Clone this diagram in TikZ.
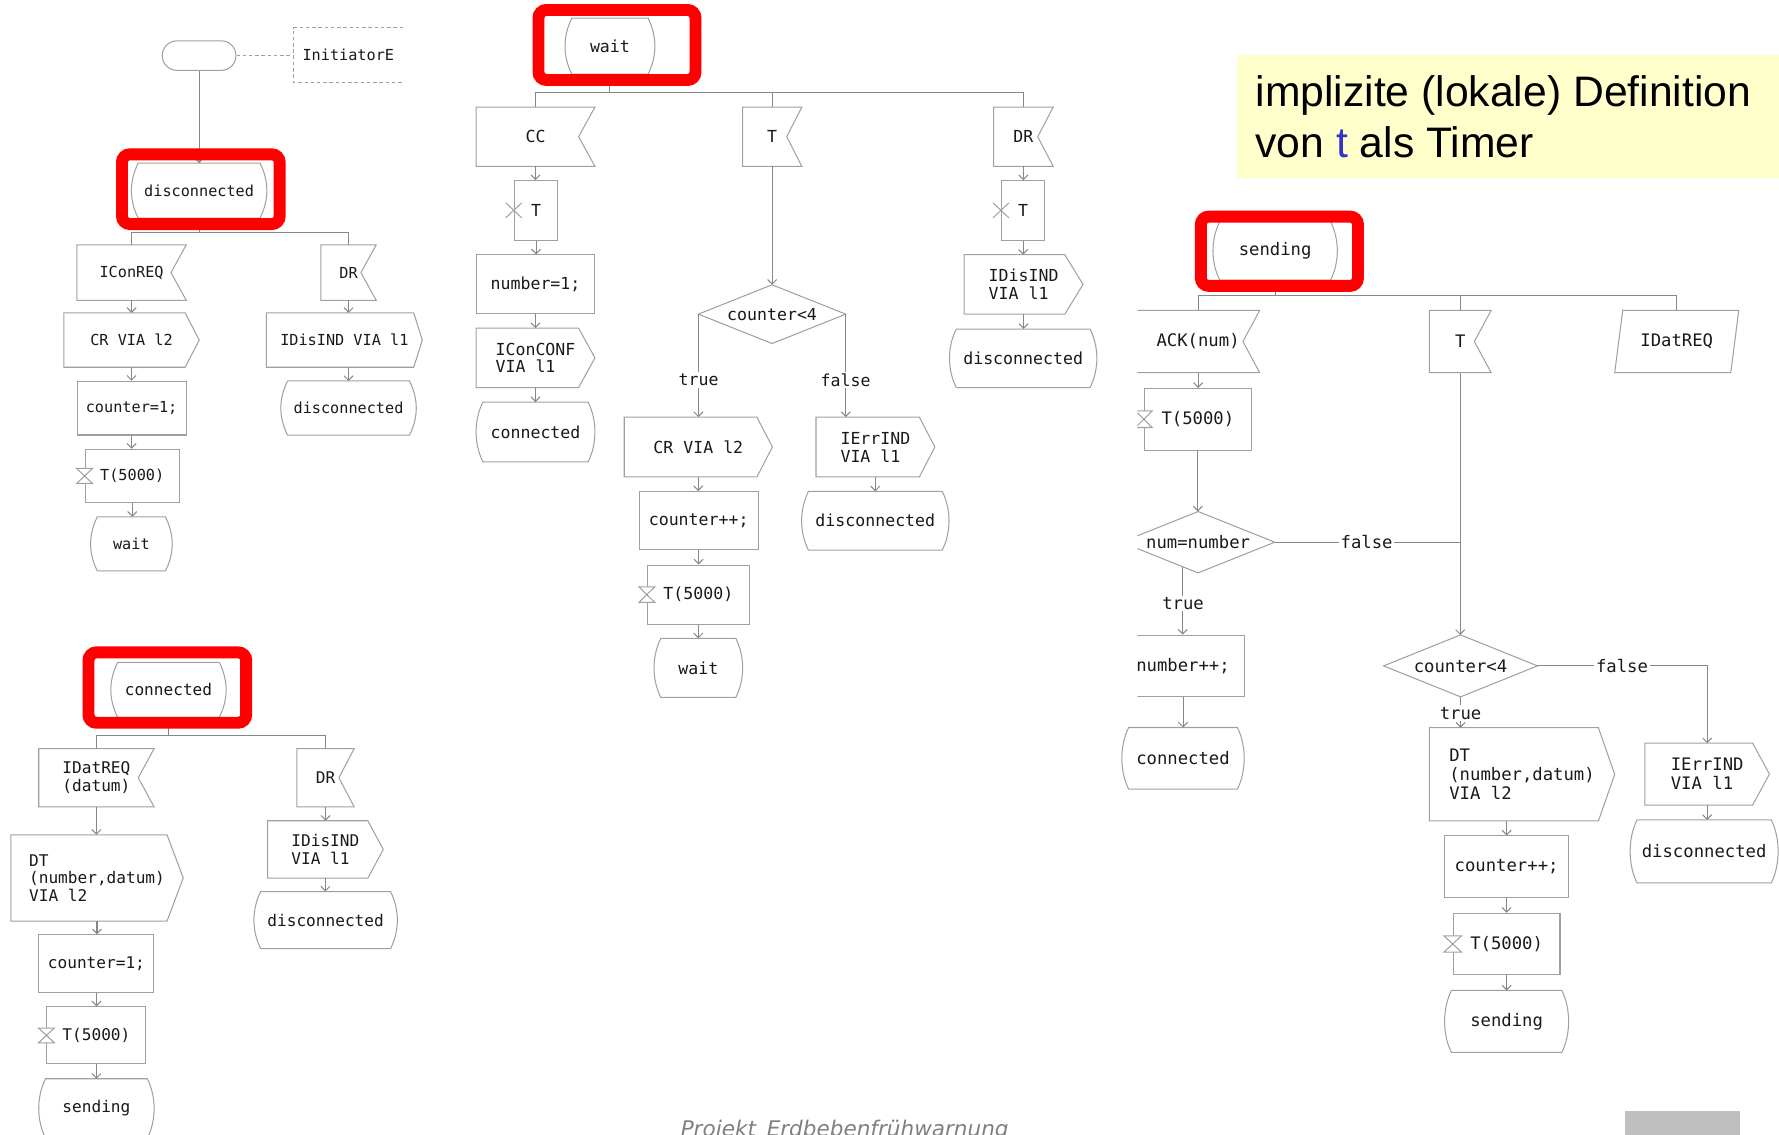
\documentclass[tikz,border=0pt]{standalone}
\usepackage{fontspec}
\setmainfont{Liberation Sans}
\newfontfamily\monof{DejaVu Sans Mono}
\newfontfamily\footf{DejaVu Sans}
\usetikzlibrary{arrows.meta,calc}

\definecolor{linegray}{RGB}{135,135,135}
\definecolor{shapegray}{RGB}{160,160,160}
\definecolor{txt}{RGB}{25,25,25}
\definecolor{notebg}{RGB}{255,255,204}
\definecolor{tblue}{RGB}{51,51,204}
\definecolor{hlred}{RGB}{255,0,0}
\definecolor{footgray}{RGB}{128,128,128}
\definecolor{tabgray}{RGB}{191,191,191}

\tikzset{
  shapeline/.style={draw=shapegray, line width=0.9pt},
  link/.style={draw=linegray, line width=0.9pt},
  flow/.style={link, -{Straight Barb[length=4pt,width=8pt]}},
  dashline/.style={draw=shapegray, line width=0.9pt, dash pattern=on 3pt off 2.5pt},
  sym/.style={rectangle, inner sep=0pt, text=txt, align=center},
  taskbox/.style={sym, shapeline},
  lbl/.style={fill=white, inner sep=1.5pt, text=txt},
  hlbox/.style={draw=hlred, line width=10.5pt, rounded corners=7pt, inner sep=0pt},
  fsA/.style={font=\monof\fontsize{13.4}{14.7}\selectfont},
  fsB/.style={font=\monof\fontsize{14.2}{15.5}\selectfont},
  fsC/.style={font=\monof\fontsize{14.6}{15.8}\selectfont},
  fsD/.style={font=\monof\fontsize{15.2}{16.6}\selectfont},
}

% SDL symbol outlines, drawn round a plain rectangular node
\newcommand\sdlstate[1]{\draw[shapeline]
  ([xshift=6pt]#1.north west) -- ([xshift=-6pt]#1.north east)
  .. controls ([xshift=2pt,yshift=-16pt]#1.north east) and ([xshift=2pt,yshift=16pt]#1.south east) ..
  ([xshift=-6pt]#1.south east) -- ([xshift=6pt]#1.south west)
  .. controls ([xshift=-2pt,yshift=16pt]#1.south west) and ([xshift=-2pt,yshift=-16pt]#1.north west) ..
  cycle;}
\newcommand\sdlinput[2]{\draw[shapeline] (#1.north west) -- (#1.north east)
  -- ([xshift=-#2]#1.east) -- (#1.south east) -- (#1.south west) -- cycle;}
\newcommand\sdloutput[2]{\draw[shapeline] (#1.north west) -- ([xshift=-#2]#1.north east)
  -- (#1.east) -- ([xshift=-#2]#1.south east) -- (#1.south west) -- cycle;}
\newcommand\sdlpriority[2]{\draw[shapeline] ([xshift=#2]#1.north west) -- (#1.north east)
  -- ([xshift=-#2]#1.south east) -- (#1.south west) -- cycle;}
\newcommand\sdldecision[1]{\draw[shapeline] (#1.north) -- (#1.east) -- (#1.south) -- (#1.west) -- cycle;}
\newcommand\sdlsettimer[3]{\draw[shapeline, fill=white]
  ([xshift=-#2,yshift=#3]#1.west) -- ([xshift=#2,yshift=#3]#1.west)
  -- ([xshift=-#2,yshift=-#3]#1.west) -- ([xshift=#2,yshift=-#3]#1.west) -- cycle;}
\newcommand\sdlresettimer[3]{\draw[shapeline]
  ([xshift=-#2,yshift=#3]#1.west) -- ([xshift=#2,yshift=-#3]#1.west)
  ([xshift=-#2,yshift=-#3]#1.west) -- ([xshift=#2,yshift=#3]#1.west);}
\newcommand\flowdown[2]{\draw[flow] (#1.south) -- (#1.south |- #2.north);}

\begin{document}
\begin{tikzpicture}[x=1pt,y=-1pt]
\useasboundingbox (0,0) rectangle (1568,1000);
\clip (0,0) rectangle (1568,1000);
\fill[white] (0,0) rectangle (1568,1000);

% ---------------- process start and state "disconnected"
\begin{scope}[every node/.append style={fsA}]
  \node[sym, shapeline, rounded corners=13pt, minimum width=65pt, minimum height=26pt] (start) at (175.5,49) {};
  \node[sym, minimum width=96pt, minimum height=47.6pt] (cmt) at (307,48.5) {InitiatorE};
  \draw[dashline] (cmt.north east) -- (cmt.north west) -- (cmt.south west) -- (cmt.south east);
  \draw[dashline] (start.east) -- (start.east -| cmt.west);

  \node[sym, minimum width=119pt, minimum height=48pt] (dis1) at (175.5,168) {disconnected}; \sdlstate{dis1}
  \draw[flow] (start.south) -- (dis1.north);
  \coordinate (br1) at (175.5,204.5);

  \node[sym, minimum width=96pt, minimum height=48.5pt] (iconreq) at (116,240.25) {IConREQ}; \sdlinput{iconreq}{13.5pt}
  \node[sym, minimum width=48.4pt, minimum height=48.5pt] (dr1) at (307.2,240.25) {DR}; \sdlinput{dr1}{13.5pt}
  \draw[link] (dis1.south) -- (br1);
  \draw[link] (br1) -| (iconreq.north);
  \draw[link] (br1) -| (dr1.north);

  \node[sym, minimum width=119pt, minimum height=47.5pt] (cr1) at (115.9,299.75) {CR VIA l2}; \sdloutput{cr1}{12.4pt}
  \node[taskbox, minimum width=96pt, minimum height=47.4pt] (cnt1) at (116,359.7) {counter=1;};
  \node[taskbox, minimum width=83pt, minimum height=47pt] (set1) at (116.5,419.5) {T(5000)}; \sdlsettimer{set1}{7pt}{6.6pt}
  \node[sym, minimum width=71.6pt, minimum height=47.3pt] (wait1) at (115.8,479.4) {wait}; \sdlstate{wait1}
  \node[sym, minimum width=137pt, minimum height=47.5pt] (disind1) at (303.5,299.75) {IDisIND VIA l1}; \sdloutput{disind1}{7.5pt}
  \node[sym, minimum width=119pt, minimum height=47.4pt] (dis2) at (307.2,359.7) {disconnected}; \sdlstate{dis2}

  \flowdown{iconreq}{cr1}
  \flowdown{cr1}{cnt1}
  \flowdown{cnt1}{set1}
  \flowdown{set1}{wait1}
  \flowdown{dr1}{disind1}
  \draw[flow] (dis2.north |- disind1.south) -- (dis2.north);

  \node[hlbox, minimum width=139pt, minimum height=61.5pt] (hl1) at (177,166.75) {};
\end{scope}

% ---------------- state "connected"
\begin{scope}[every node/.append style={fsB}]
  \node[sym, minimum width=101.2pt, minimum height=48pt] (con1) at (148.5,608) {connected}; \sdlstate{con1}
  \coordinate (br2) at (148.5,648);
  \node[sym, minimum width=101.3pt, minimum height=51pt] (datreq1) at (85,685.5) {IDatREQ\\(datum)}; \sdlinput{datreq1}{14pt}
  \node[sym, minimum width=50.2pt, minimum height=51pt] (dr2) at (286.9,685.5) {DR}; \sdlinput{dr2}{13.5pt}
  \draw[link] (con1.south) -- (br2);
  \draw[link] (br2) -| (datreq1.north);
  \draw[link] (br2) -| (dr2.north);

  \node[sym, align=left, minimum width=151.6pt, minimum height=75.7pt] (dt1) at (85.5,773.8) {DT\\(number,datum)\\VIA l2}; \sdloutput{dt1}{14.3pt}
  \node[taskbox, minimum width=101.3pt, minimum height=51pt] (cnt2) at (85,849.5) {counter=1;};
  \node[taskbox, minimum width=87.3pt, minimum height=50.3pt] (set2) at (85,912.6) {T(5000)}; \sdlsettimer{set2}{7pt}{6.5pt}
  \node[sym, minimum width=101.3pt, minimum height=52pt] (send1) at (85,977) {sending}; \sdlstate{send1}
  \node[sym, align=left, minimum width=101.6pt, minimum height=50.2pt] (disind2) at (286.8,748.7) {IDisIND\\VIA l1}; \sdloutput{disind2}{13.6pt}
  \node[sym, minimum width=126pt, minimum height=50pt] (dis3) at (287,811) {disconnected}; \sdlstate{dis3}

  \flowdown{datreq1}{dt1}
  \flowdown{dt1}{cnt2}
  \flowdown{cnt2}{set2}
  \flowdown{set2}{send1}
  \flowdown{dr2}{disind2}
  \flowdown{disind2}{dis3}

  \node[hlbox, minimum width=139pt, minimum height=62pt] (hl2) at (147.5,606) {};
\end{scope}

% ---------------- state "wait"
\begin{scope}[every node/.append style={fsC}]
  \node[sym, minimum width=78.8pt, minimum height=49pt] (wait2) at (537.6,40.7) {wait}; \sdlstate{wait2}
  \coordinate (br3) at (537.6,81.4);
  \node[sym, minimum width=104.3pt, minimum height=51.7pt] (cc) at (472,120.5) {CC}; \sdlinput{cc}{14.4pt}
  \node[sym, minimum width=51.8pt, minimum height=51.7pt] (t1) at (680.6,120.5) {T}; \sdlinput{t1}{13.3pt}
  \node[sym, minimum width=52.1pt, minimum height=51.7pt] (dr3) at (902,120.5) {DR}; \sdlinput{dr3}{13.6pt}
  \draw[link] (wait2.south) -- (br3);
  \draw[link] (br3) -| (cc.north);
  \draw[link] (br3) -| (t1.north);
  \draw[link] (br3) -| (dr3.north);

  \node[taskbox, minimum width=38.5pt, minimum height=52.3pt] (rst1) at (472.5,185.4) {T}; \sdlresettimer{rst1}{7pt}{6.6pt}
  \node[taskbox, minimum width=104.7pt, minimum height=52pt] (num1) at (472,250.7) {number=1;};
  \node[sym, align=left, minimum width=104.3pt, minimum height=52pt] (conf1) at (472,315.4) {IConCONF\\VIA l1}; \sdloutput{conf1}{14.4pt}
  \node[sym, minimum width=104.3pt, minimum height=52.3pt] (con2) at (472,380.7) {connected}; \sdlstate{con2}

  \node[sym, minimum width=129.5pt, minimum height=51.4pt] (dec1) at (680.5,276.9) {counter<4}; \sdldecision{dec1}
  \node[sym, minimum width=130.2pt, minimum height=52.3pt] (crmid) at (615.5,394) {CR VIA l2}; \sdloutput{crmid}{13.7pt}
  \node[taskbox, minimum width=105.1pt, minimum height=51.4pt] (cntmid) at (615.8,459) {counter++;};
  \node[taskbox, minimum width=89.9pt, minimum height=52.2pt] (setmid) at (615.5,524.1) {T(5000)}; \sdlsettimer{setmid}{7pt}{6.9pt}
  \node[sym, minimum width=77.7pt, minimum height=51.7pt] (wait3) at (615.5,588.7) {wait}; \sdlstate{wait3}
  \node[sym, align=left, minimum width=104.4pt, minimum height=52.3pt] (err1) at (771.6,394) {IErrIND\\VIA l1}; \sdloutput{err1}{13.7pt}
  \node[sym, minimum width=129.5pt, minimum height=51.4pt] (dis4) at (771.5,459) {disconnected}; \sdlstate{dis4}

  \node[taskbox, minimum width=38.2pt, minimum height=52.3pt] (rst2) at (901.8,185.4) {T}; \sdlresettimer{rst2}{7pt}{6.6pt}
  \node[sym, align=left, minimum width=104.3pt, minimum height=52pt] (disind3) at (902.2,250.7) {IDisIND\\VIA l1}; \sdloutput{disind3}{16pt}
  \node[sym, minimum width=129.5pt, minimum height=51.2pt] (dis5) at (901.8,315.8) {disconnected}; \sdlstate{dis5}

  \flowdown{cc}{rst1}
  \flowdown{rst1}{num1}
  \flowdown{num1}{conf1}
  \flowdown{conf1}{con2}
  \flowdown{t1}{dec1}
  \draw[flow] (dec1.west) -- (dec1.west |- crmid.north);
  \node[lbl] (tr1) at (615.8,335) {true};
  \draw[flow] (dec1.east) -- (dec1.east |- err1.north);
  \node[lbl] (fa1) at (745.3,335) {false};
  \flowdown{crmid}{cntmid}
  \flowdown{cntmid}{setmid}
  \flowdown{setmid}{wait3}
  \draw[flow] (dis4.north |- err1.south) -- (dis4.north);
  \flowdown{dr3}{rst2}
  \flowdown{rst2}{disind3}
  \flowdown{disind3}{dis5}

  \node[hlbox, minimum width=138.4pt, minimum height=61.7pt] (hl3) at (543.8,39.65) {};
\end{scope}

% ---------------- state "sending"
\begin{scope}[every node/.append style={fsD}]
  \node[sym, minimum width=109.2pt, minimum height=51.4pt] (send2) at (1123.9,221.1) {sending}; \sdlstate{send2}
  \coordinate (br4) at (1123.9,260.6);
  \begin{scope}
    \clip (1002.5,0) rectangle (1600,628);
    \node[sym, minimum width=108pt, minimum height=54.3pt] (ack) at (1056,301) {ACK(num)}; \sdlinput{ack}{14.7pt}
    \node[taskbox, minimum width=94.4pt, minimum height=54.3pt] (set3) at (1055.8,369.5) {T(5000)}; \sdlsettimer{set3}{7.4pt}{7.3pt}
    \node[sym, minimum width=134.8pt, minimum height=53.7pt] (dec2) at (1056,477.9) {num=number}; \sdldecision{dec2}
    \node[taskbox, minimum width=108.8pt, minimum height=54.2pt] (inc) at (1042.7,586.9) {number++;};
  \end{scope}
  \node[sym, minimum width=54.1pt, minimum height=54.3pt] (t2) at (1287,301) {T}; \sdlinput{t2}{14.8pt}
  \node[sym, minimum width=108.9pt, minimum height=54.3pt] (datreq2) at (1477.85,301) {IDatREQ}; \sdlpriority{datreq2}{7pt}
  \draw[link] (send2.south) -- (br4);
  \draw[link] (br4) -| (ack.north);
  \draw[link] (br4) -| (t2.north);
  \draw[link] (br4) -| (datreq2.north);

  \node[sym, minimum width=107.4pt, minimum height=54pt] (con3) at (1042.7,668.4) {connected}; \sdlstate{con3}
  \node[sym, minimum width=135.2pt, minimum height=54.2pt] (dec3) at (1287.3,586.9) {counter<4}; \sdldecision{dec3}
  \node[sym, align=left, minimum width=163pt, minimum height=81.8pt] (dt2) at (1341.5,682.5) {DT\\(number,datum)\\VIA l2}; \sdloutput{dt2}{14.4pt}
  \node[taskbox, minimum width=108.9pt, minimum height=54.1pt] (cnt3) at (1327.9,763.8) {counter++;};
  \node[taskbox, minimum width=94.1pt, minimum height=54.1pt] (set4) at (1327.9,832) {T(5000)}; \sdlsettimer{set4}{7.8pt}{7.2pt}
  \node[sym, minimum width=108.9pt, minimum height=54.2pt] (send3) at (1327.9,900.3) {sending}; \sdlstate{send3}
  \node[sym, align=left, minimum width=109.3pt, minimum height=54.1pt] (err2) at (1504.7,682.3) {IErrIND\\VIA l1}; \sdloutput{err2}{14.8pt}
  \node[sym, minimum width=130pt, minimum height=55pt] (dis6) at (1502,750.4) {disconnected}; \sdlstate{dis6}

  \flowdown{ack}{set3}
  \flowdown{set3}{dec2}
  \draw[link] (dec2.east) -- (dec2.east -| t2.south);
  \node[lbl] (fa2) at (1204.5,477.9) {false};
  \coordinate (dec2t) at ($(dec2.south)!0.2!(dec2.west)$);
  \draw[flow] (dec2t) -- (dec2t |- inc.north);
  \node[lbl] (tr2) at (1042.7,532) {true};
  \flowdown{inc}{con3}
  \draw[flow] (t2.south) -- (t2.south |- dec3.north);
  \draw[flow] (dec3.south) -- (dec3.south |- dt2.north);
  \node[lbl] (tr3) at (1287.3,628.5) {true};
  \draw[flow] (dec3.east) -| (err2.north);
  \node[lbl] (fa3) at (1429.6,586.9) {false};
  \draw[flow] (cnt3.north |- dt2.south) -- (cnt3.north);
  \flowdown{cnt3}{set4}
  \flowdown{set4}{send3}
  \flowdown{err2}{dis6}

  \node[hlbox, minimum width=138.5pt, minimum height=61.1pt] (hl4) at (1127.65,221.45) {};
\end{scope}

% ---------------- note on the timer
\node[fill=notebg, inner sep=0pt, minimum width=478pt, minimum height=108.3pt, anchor=north west] (note) at (1090,48) {};
\node[anchor=base west, inner sep=0pt, font=\fontsize{37.6}{44}\selectfont, text=black] (noteA) at (1106.5,94) {implizite (lokale) Definition};
\node[anchor=base west, inner sep=0pt, font=\fontsize{37.6}{44}\selectfont, text=black] (noteB) at (1106.5,139) {von \textcolor{tblue}{t} als Timer};

% ---------------- footer
\node[anchor=base, inner sep=0pt, font=\footf\itshape\fontsize{19}{22}\selectfont, text=footgray] (foot) at (744.5,1001.5) {Projekt\enspace Erdbebenfrühwarnung};
\node[fill=tabgray, inner sep=0pt, minimum width=101.1pt, minimum height=30pt, anchor=north west] (tab) at (1432.3,978.6) {};
\end{tikzpicture}
\end{document}
